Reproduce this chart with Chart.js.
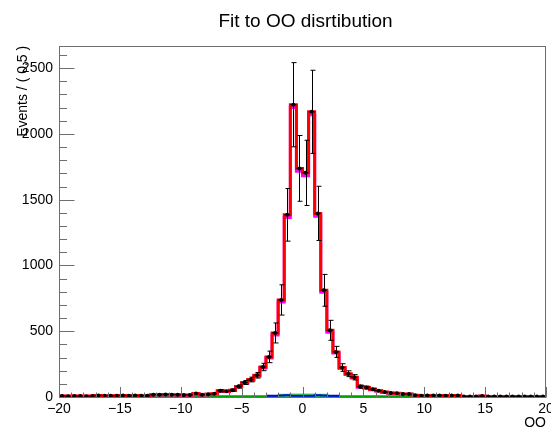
<!DOCTYPE html>
<html>
<head>
<meta charset="utf-8">
<title>Fit to OO disrtibution</title>
<script src="https://cdn.jsdelivr.net/npm/chart.js@4.4.0/dist/chart.umd.min.js"></script>
<style>
  body { margin: 0; background: #fff; }
</style>
</head>
<body>
<canvas id="fitChart" width="551" height="430"></canvas>
<script>
// binning of the OO histogram
const xMin = -20;
const xMax = 20;
const binWidth = 0.5;
const xTickLabels = [-20, -15, -10, -5, 0, 5, 10, 15, 20];
const yTickLabels = [0, 500, 1000, 1500, 2000, 2500];

// data (events per bin) and their errors
const dataCounts = [
  8, 6, 8, 7, 6, 8, 12, 10, 9, 10,
  12, 9, 11, 10, 9, 18, 17, 19, 18, 17,
  15, 16, 26, 17, 20, 25, 48, 44, 52, 80,
  110, 133, 165, 228, 305, 487, 738, 1385, 2222, 1738,
  1704, 2168, 1396, 811, 507, 343, 224, 177, 150, 79,
  72, 58, 48, 38, 30, 28, 23, 22, 14, 10,
  12, 11, 12, 10, 12, 11, 4, 3, 4, 7,
  3, 4, 3, 3, 4, 3, 3, 4, 3, 3
];
const dataErrors = [
  3, 3, 3, 3, 3, 3, 4, 4, 4, 4,
  4, 4, 4, 4, 4, 5, 5, 5, 5, 5,
  5, 5, 6, 5, 5, 6, 9, 8, 9, 12,
  15, 18, 21, 28, 44, 76, 115, 200, 320, 250,
  248, 316, 206, 121, 76, 42, 29, 22, 20, 12,
  11, 9, 8, 7, 6, 6, 5, 5, 4, 4,
  4, 4, 4, 4, 4, 4, 2, 2, 2, 3,
  2, 2, 2, 2, 2, 2, 2, 2, 2, 2
];

// fit model: total and components
const totalFit = [
  8, 6, 8, 7, 6, 8, 12, 10, 9, 10,
  12, 9, 11, 10, 9, 18, 17, 19, 18, 17,
  15, 16, 26, 17, 20, 25, 48, 44, 52, 80,
  110, 133, 165, 228, 305, 487, 738, 1385, 2222, 1738,
  1704, 2168, 1396, 811, 507, 343, 224, 177, 150, 79,
  72, 58, 48, 38, 30, 28, 23, 22, 14, 10,
  12, 11, 12, 10, 12, 11, 4, 3, 4, 7,
  3, 4, 3, 3, 4, 3, 3, 4, 3, 3
];
const signalFit = [
  6, 5, 6, 5, 5, 6, 10, 8, 7, 8,
  10, 7, 9, 8, 7, 16, 15, 17, 16, 15,
  13, 14, 24, 15, 18, 22, 45, 41, 49, 76,
  105, 127, 158, 220, 296, 472, 722, 1364, 2200, 1716,
  1682, 2146, 1375, 796, 492, 335, 216, 171, 145, 75,
  68, 55, 45, 35, 28, 26, 21, 20, 12, 8,
  10, 9, 10, 8, 10, 9, 2, 2, 2, 5,
  2, 2, 2, 2, 2, 2, 2, 2, 2, 2
];
const peakBkg = [
  0, 0, 0, 0, 0, 0, 0, 0, 0, 0,
  0, 0, 0, 0, 0, 0, 0, 0, 0, 0,
  0, 0, 0, 0, 0, 0, 0, 0, 0, 0,
  0, 0, 0, 0, 10, 10, 12, 14, 9, 9,
  9, 9, 14, 12, 10, 10, 0, 0, 0, 0,
  0, 0, 0, 0, 0, 0, 0, 0, 0, 0,
  0, 0, 0, 0, 0, 0, 0, 0, 0, 0,
  0, 0, 0, 0, 0, 0, 0, 0, 0, 0
];
const coreBkg = [
  0, 0, 0, 0, 0, 0, 0, 0, 0, 0,
  0, 0, 0, 0, 0, 0, 0, 0, 0, 0,
  0, 0, 0, 0, 0, 0, 0, 0, 0, 0,
  0, 0, 0, 0, 0, 0, 13, 14, 15, 15,
  15, 15, 14, 13, 0, 0, 0, 0, 0, 0,
  0, 0, 0, 0, 0, 0, 0, 0, 0, 0,
  0, 0, 0, 0, 0, 0, 0, 0, 0, 0,
  0, 0, 0, 0, 0, 0, 0, 0, 0, 0
];
const flatBkg = [
  1, 1, 1, 1, 1, 1, 1, 1, 1, 1,
  1, 1, 1, 1, 1, 1, 1, 1, 1, 1,
  1, 1, 1, 1, 1, 1, 1, 1, 1, 1,
  1, 1, 1, 1, 1, 1, 1, 1, 1, 1,
  1, 1, 1, 1, 1, 1, 1, 1, 1, 1,
  1, 1, 1, 1, 1, 1, 1, 1, 1, 1,
  1, 1, 1, 1, 1, 1, 1, 1, 1, 1,
  1, 1, 1, 1, 1, 1, 1, 1, 1, 1
];

const binCenters = dataCounts.map((_, i) => xMin + binWidth * (i + 0.5));

// histogram outline: one point per left bin edge plus the last edge
function stepPoints(values) {
  const pts = values.map((v, i) => ({ x: xMin + binWidth * i, y: v }));
  pts.push({ x: xMax, y: values[values.length - 1] });
  return pts;
}

function histLine(values, color, width, order, hideZero) {
  const ds = {
    data: stepPoints(values),
    borderColor: color,
    borderWidth: width,
    pointRadius: 0,
    stepped: true,
    fill: false,
    order: order
  };
  if (hideZero) {
    ds.segment = {
      borderColor: ctx => ctx.p0.parsed.y === 0 ? 'rgba(0,0,0,0)' : color
    };
  }
  return ds;
}

// error bars and bin-width bars for the data points
const errorBars = {
  id: 'errorBars',
  afterDatasetsDraw(chart) {
    const { ctx, chartArea, scales: { x, y } } = chart;
    ctx.save();
    ctx.beginPath();
    ctx.rect(chartArea.left, chartArea.top, chartArea.width, chartArea.height);
    ctx.clip();
    ctx.strokeStyle = '#000';
    ctx.lineWidth = 1;
    binCenters.forEach((c, i) => {
      const px = Math.round(x.getPixelForValue(c)) + 0.5;
      const py = y.getPixelForValue(dataCounts[i]);
      const yTop = y.getPixelForValue(dataCounts[i] + dataErrors[i]);
      const yBot = y.getPixelForValue(Math.max(0, dataCounts[i] - dataErrors[i]));
      ctx.beginPath();
      ctx.moveTo(px, yTop);
      ctx.lineTo(px, yBot);
      ctx.moveTo(x.getPixelForValue(c - binWidth / 2), py);
      ctx.lineTo(x.getPixelForValue(c + binWidth / 2), py);
      if (dataErrors[i] > 8) {
        ctx.moveTo(px - 2, yTop);
        ctx.lineTo(px + 3, yTop);
        ctx.moveTo(px - 2, yBot);
        ctx.lineTo(px + 3, yBot);
      }
      ctx.stroke();
    });
    ctx.restore();
  }
};

// ROOT-like frame with ticks inside, title centred over the frame
const rootFrame = {
  id: 'rootFrame',
  afterLayout(chart) {
    if (chart.titleBlock) {
      chart.titleBlock.left = chart.chartArea.left + 3;
      chart.titleBlock.right = chart.chartArea.right + 3;
    }
  },
  afterDraw(chart) {
    const { ctx, chartArea, scales: { x, y } } = chart;
    const l = Math.round(chartArea.left) + 0.5;
    const r = Math.round(chartArea.right) - 0.5;
    const t = Math.round(chartArea.top) + 0.5;
    const b = Math.round(chartArea.bottom) + 0.5;
    ctx.save();
    ctx.strokeStyle = '#6e6e6e';
    ctx.lineWidth = 1;
    ctx.strokeRect(l, t, r - l, b - t);
    ctx.beginPath();
    for (let v = xMin; v <= xMax; v += 1) {
      const px = Math.round(x.getPixelForValue(v)) + 0.5;
      const len = v % 5 === 0 ? 10.5 : 5;
      ctx.moveTo(px, b);
      ctx.lineTo(px, b - len);
    }
    for (let v = 0; v <= y.max; v += 100) {
      const py = Math.round(y.getPixelForValue(v)) + 0.5;
      const len = v % 500 === 0 ? 15 : 7.5;
      ctx.moveTo(l, py);
      ctx.lineTo(l + len, py);
    }
    ctx.stroke();
    ctx.restore();
  }
};

Chart.defaults.font.family = "'Liberation Sans', Helvetica, Arial, sans-serif";
Chart.defaults.color = '#000';

new Chart(document.getElementById('fitChart'), {
  type: 'line',
  data: {
    datasets: [
      {
        data: binCenters.map((c, i) => ({ x: c, y: dataCounts[i] })),
        showLine: false,
        pointRadius: 2,
        pointBorderWidth: 0,
        pointBackgroundColor: '#000',
        order: 0
      },
      histLine(totalFit, '#ff0000', 3, 1, false),
      histLine(signalFit, '#ff00ff', 3, 2, false),
      histLine(peakBkg, '#0000ff', 2, 3, true),
      histLine(coreBkg, '#33ee33', 3, 4, true),
      histLine(flatBkg, '#00a000', 3, 5, false)
    ]
  },
  options: {
    responsive: false,
    animation: false,
    events: [],
    layout: { padding: { left: 0, right: 5, top: 0, bottom: 0 } },
    plugins: {
      legend: { display: false },
      tooltip: { enabled: false },
      title: {
        display: true,
        text: 'Fit to OO disrtibution',
        font: { size: 19, weight: 'normal' },
        padding: { top: 10, bottom: 13 }
      }
    },
    scales: {
      x: {
        type: 'linear',
        min: xMin,
        max: xMax,
        grid: { display: false, drawTicks: false },
        border: { display: false },
        afterBuildTicks: s => { s.ticks = xTickLabels.map(v => ({ value: v })); },
        ticks: {
          padding: 4,
          font: { size: 14 },
          maxRotation: 0,
          autoSkip: false,
          callback: v => String(v).replace('-', '\u2212')
        },
        title: {
          display: true,
          text: 'OO',
          align: 'end',
          font: { size: 14, lineHeight: 1 },
          padding: { top: 0, bottom: 0 }
        },
        afterFit: s => { s.height = 33; s.paddingLeft = 0; s.paddingRight = 0; }
      },
      y: {
        min: 0,
        max: 2670,
        grid: { display: false, drawTicks: false },
        border: { display: false },
        afterBuildTicks: s => { s.ticks = yTickLabels.map(v => ({ value: v })); },
        ticks: { padding: 6, font: { size: 14 }, autoSkip: false, callback: v => String(v) },
        title: {
          display: true,
          text: 'Events / ( 0.5 )',
          align: 'end',
          font: { size: 14 },
          padding: { top: 14.5, bottom: 0 }
        },
        afterFit: s => { s.width = 59; s.paddingTop = 0; s.paddingBottom = 0; }
      }
    }
  },
  plugins: [errorBars, rootFrame]
});
</script>
</body>
</html>
